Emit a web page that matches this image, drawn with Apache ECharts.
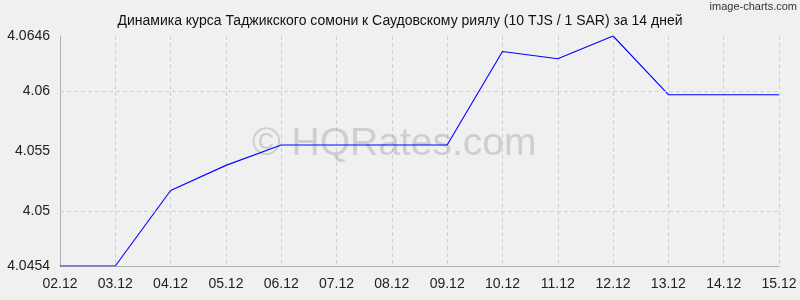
<!DOCTYPE html>
<html><head><meta charset="utf-8">
<script src="https://cdn.jsdelivr.net/npm/echarts@6/dist/echarts.min.js"></script>
<style>html,body{margin:0;padding:0;background:#f0f0f0;}#c{width:800px;height:300px;}</style>
</head><body><div id="c"></div>
<script>
const categories = ['02.12','03.12','04.12','05.12','06.12','07.12','08.12','09.12','10.12','11.12','12.12','13.12','14.12','15.12'];
const rates = [4.0454,4.0454,4.0517,4.0538,4.0555,4.0555,4.0555,4.0555,4.0633,4.0627,4.0646,4.0597,4.0597,4.0597];
const yTicks = [4.0454,4.05,4.055,4.06,4.0646];
const gridValues = [4.05,4.055,4.06,4.0646];
const yMin = 4.0454, yMax = 4.0646;
const titleText = 'Динамика курса Таджикского сомони к Саудовскому риялу (10 TJS / 1 SAR) за 14 дней';

const chart = echarts.init(document.getElementById('c'), null, {renderer:'canvas'});
chart.setOption({
  backgroundColor:'#f0f0f0',
  animation:false,
  title:{text:titleText,left:'center',top:9,textStyle:{fontFamily:'Liberation Sans, Arial',fontSize:14,fontWeight:'normal',color:'#111'}},
  graphic:[
    {type:'text',left:252,top:125,style:{text:'© HQRates.com',fontFamily:'Liberation Sans, Arial',fontSize:39,fill:'rgba(150,150,150,0.38)'},z:1},
    {type:'text',right:3,top:1,style:{text:'image-charts.com',fontFamily:'Liberation Sans, Arial',fontSize:11,fill:'#333'}}
  ],
  grid:{left:60,right:21,top:36,bottom:34},
  xAxis:{type:'category',data:categories,boundaryGap:false,
    axisLine:{lineStyle:{color:'#b0b0b0'}},axisTick:{show:false},
    axisLabel:{color:'#222',fontFamily:'Liberation Sans, Arial',fontSize:14,margin:11,interval:0},
    splitLine:{show:true,interval:0,lineStyle:{color:'#d0d0d0',type:[4,3]}}},
  yAxis:{type:'value',min:yMin,max:yMax,
    axisLine:{show:true,lineStyle:{color:'#b0b0b0'}},axisTick:{show:false},
    axisLabel:{color:'#222',fontFamily:'Liberation Sans, Arial',fontSize:14,margin:10,customValues:yTicks},
    splitLine:{show:false}},
  series:[{type:'line',data:rates,symbol:'none',lineStyle:{color:'#0000ff',width:1.1},z:3,
    markLine:{silent:true,symbol:'none',label:{show:false},animation:false,
      lineStyle:{color:'#d0d0d0',type:[4,3],width:1},
      data:gridValues.map(v=>({yAxis:v}))}}]
});
</script></body></html>
